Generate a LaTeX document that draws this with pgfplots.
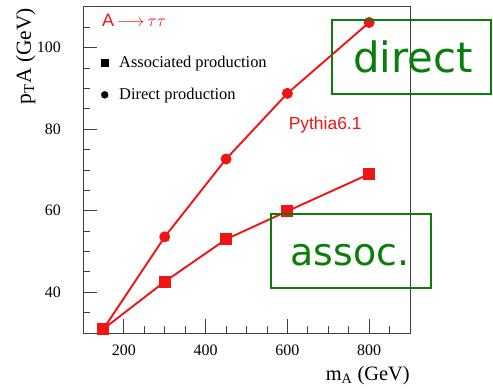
\documentclass[border=0pt]{standalone}
\usepackage{pgfplots}
\pgfplotsset{compat=1.18}
\usepackage{fontspec}
\setmainfont{Liberation Serif}
\newfontfamily\hel{Liberation Sans}
\newfontfamily\comic{DejaVu Sans}
\definecolor{myred}{RGB}{240,20,20}
\definecolor{mygreen}{RGB}{10,125,10}
\begin{document}
\begin{tikzpicture}
\begin{axis}[
  scale only axis, width=327bp, height=326bp,
  xmin=100, xmax=900, ymin=30, ymax=110,
  xtick={200,400,600,800}, ytick={40,60,80,100},
  minor xtick={150,250,300,350,450,500,550,650,700,750,850},
  minor ytick={35,45,50,55,65,70,75,85,90,95,105},
  tick align=inside, xtick pos=lower, ytick pos=left,
  major tick length=14bp, minor tick length=7bp,
  axis line style={black!75, line width=1pt},
  tick style={black!75, line width=0.8pt},
  /pgf/number format/assume math mode=true,
  ticklabel style={font=\fontsize{16}{18}\selectfont, inner sep=0pt},
  xticklabel style={yshift=-12bp},
  yticklabel style={xshift=-22bp},
  xlabel={m\textsubscript{A} (GeV)},
  xlabel style={at={(axis description cs:1,0)}, anchor=north east, inner sep=0pt, yshift=-33bp, font=\fontsize{20.5}{22}\selectfont},
  ylabel={p\textsubscript{T}A (GeV)},
  ylabel style={at={(axis description cs:-0.175,0.997)}, rotate=0, anchor=east, inner sep=0pt, font=\fontsize{21.5}{23}\selectfont},
  legend style={draw=none, fill=none, at={(axis description cs:0.046,0.861)}, anchor=north west, row sep=15bp, font=\fontsize{16.5}{18}\selectfont, /tikz/every odd column/.append style={column sep=9bp}},
  legend cell align=left,
  clip=false,
]
\addplot[myred, line width=1.9bp, mark=*, mark size=4.5bp, forget plot] coordinates {(150,31)(300,53.6)(450,72.7)(600,88.8)(800,106.2)};
\addplot[myred, line width=1.9bp, mark=square*, mark size=5bp, forget plot] coordinates {(150,31)(300,42.6)(450,53)(600,59.9)(800,69)};
\addlegendimage{only marks, mark=square*, black, mark size=3.5bp}
\addlegendentry{Associated production}
\addlegendimage{only marks, mark=*, black, mark size=3.5bp}
\addlegendentry{Direct production}
\node[anchor=base west, inner sep=0pt, myred, font=\hel\fontsize{18}{20}\selectfont] at (axis cs:146,105.3) {A\,$\longrightarrow$\,$\tau\tau$};
\node[anchor=base west, inner sep=0pt, myred, font=\hel\fontsize{17.5}{19}\selectfont] at (axis cs:603,80) {Pythia6.1};
\end{axis}
\draw[mygreen, line width=2.4bp] (249bp,239bp) rectangle (408bp,313bp);
\node[anchor=base, inner sep=0pt, mygreen, font=\comic\fontsize{42}{42}\selectfont] at (330bp,260bp) {direct};
\draw[mygreen, line width=2.4bp] (188bp,45bp) rectangle (348bp,119bp);
\node[anchor=base, inner sep=0pt, mygreen, font=\comic\fontsize{38}{38}\selectfont] at (267bp,67bp) {assoc.};
\pgfresetboundingbox
\path[use as bounding box] (-83bp,-59bp) rectangle (410bp,333bp);
\end{tikzpicture}
\end{document}
